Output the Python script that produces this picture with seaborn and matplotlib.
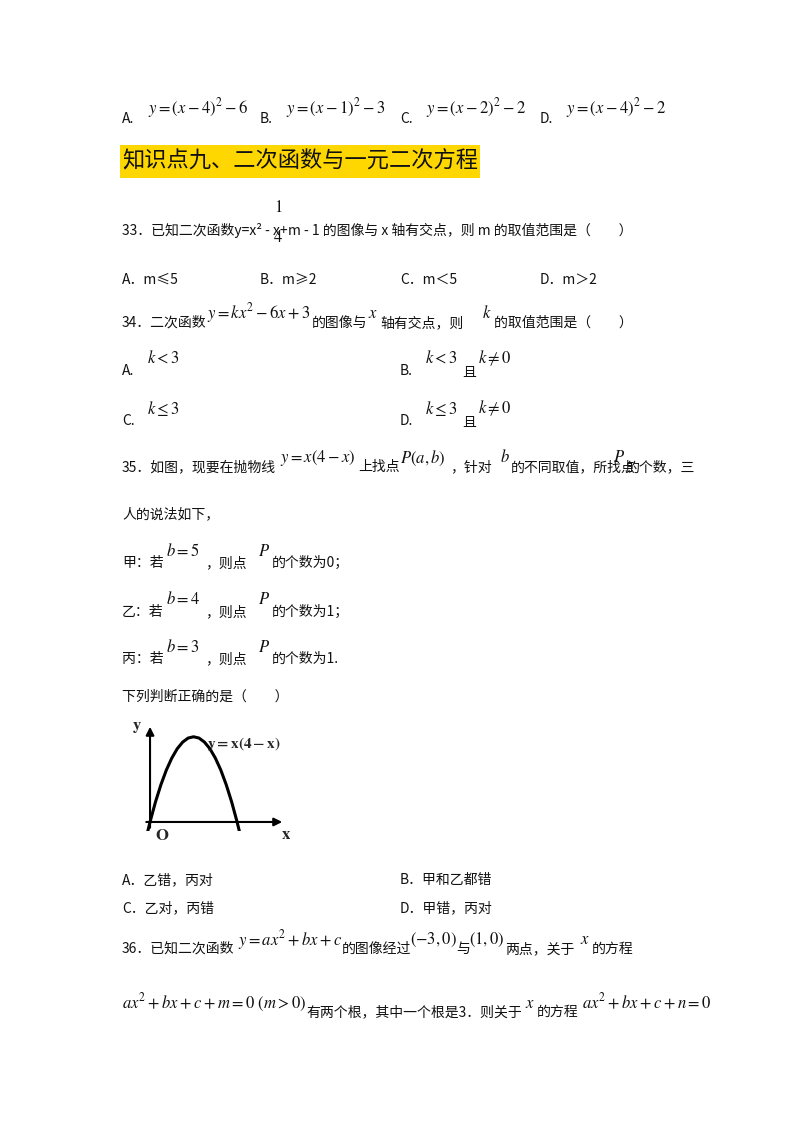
import matplotlib
matplotlib.use("Agg")
import matplotlib.pyplot as plt
import seaborn as sns
from matplotlib.patches import Rectangle

sns.set_theme(style="white")
plt.rcParams['font.family'] = ['Noto Sans CJK SC', 'DejaVu Sans']
plt.rcParams['mathtext.fontset'] = 'stix'

# parabola y = x(4-x)
curve_x = [-0.2, 0, 0.25, 0.5, 0.75, 1, 1.25, 1.5, 1.75, 2, 2.25, 2.5, 2.75, 3, 3.25, 3.5, 3.75, 4, 4.2]
curve_y = [-0.84, 0, 0.94, 1.75, 2.44, 3, 3.44, 3.75, 3.94, 4, 3.94, 3.75, 3.44, 3, 2.44, 1.75, 0.94, 0, -0.84]
curve_label = r"$\mathbf{y=x(4-x)}$"

W, H = 800, 1132
fig = plt.figure(figsize=(8, 11.32), dpi=100)
fig.patch.set_facecolor("white")

def T(x, y, s, size=10, **kw):
    fig.text(x / W, 1 - y / H, s, fontsize=size, va='center', ha='left', color='#111', **kw)

def M(x, y, s, size=12, ha='left'):
    fig.text(x / W, 1 - y / H, s, fontsize=size, va='center', ha=ha, color='#111')

for lx, lab, f in [(122, "A.", r"$y=(x-4)^2-6$"), (260, "B.", r"$y=(x-1)^2-3$"),
                   (400, "C.", r"$y=(x-2)^2-2$"), (540, "D.", r"$y=(x-4)^2-2$")]:
    T(lx, 119, lab)
    M(lx + 26, 108, f)

fig.patches.append(Rectangle((120 / W, 1 - 178 / H), 360 / W, 33 / H, transform=fig.transFigure,
                             facecolor='#FFD700', edgecolor='none'))
T(122, 161, "知识点九、二次函数与一元二次方程", size=16)

# Q33
T(122, 230, "33．已知二次函数y=x² - x+")
M(278, 208, r"$1$", 12, ha='center'); M(278, 238, r"$4$", 12, ha='center')
fig.lines.append(plt.Line2D([272 / W, 284 / W], [1 - 223 / H] * 2, color='#111', lw=0.8))
T(288, 230, "m - 1 的图像与 x 轴有交点，则 m 的取值范围是（　　）")
for lx, s in [(122, "A．m≤5"), (260, "B．m≥2"), (400, "C．m＜5"), (540, "D．m＞2")]:
    T(lx, 280, s)

# Q34
T(122, 323, "34．二次函数"); M(207, 313, r"$y=kx^2-6x+3$")
T(312, 323, "的图像与"); M(368, 313, r"$x$")
T(380, 323, "轴有交点，则"); M(482, 313, r"$k$"); T(494, 323, "的取值范围是（　　）")
T(122, 371, "A."); M(147, 358, r"$k<3$")
T(400, 371, "B."); M(425, 358, r"$k<3$"); T(462, 373, "且"); M(478, 358, r"$k\neq0$")
T(122, 421, "C."); M(147, 408, r"$k\leq3$")
T(400, 421, "D."); M(425, 408, r"$k\leq3$"); T(462, 423, "且"); M(478, 408, r"$k\neq0$")

# Q35
T(122, 467, "35．如图，现要在抛物线"); M(280, 458, r"$y=x(4-x)$")
T(358, 467, "上找点"); M(400, 458, r"$P(a,b)$"); T(450, 467, "，针对")
M(500, 458, r"$b$"); T(511, 467, "的不同取值，所找点"); M(613, 458, r"$P$"); T(626, 467, "的个数，三")
T(122, 514, "人的说法如下，")
for yy, who, bv, res in [(563, "甲", "5", "0；"), (612, "乙", "4", "1；"), (659, "丙", "3", "1.")]:
    T(122, yy, who + "：若"); M(166, yy - 12, r"$b=%s$" % bv)
    T(205, yy, "，则点"); M(258, yy - 12, r"$P$"); T(272, yy, "的个数为" + res)
T(122, 697, "下列判断正确的是（　　）")

# chart
x0, x1, y0, y1 = -0.3, 6.2, -0.4, 4.6
ax = fig.add_axes([143.5 / W, (H - 830.5) / H, 141.5 / W, 106.5 / H])
sns.lineplot(x=curve_x, y=curve_y, ax=ax, color='black', lw=2.2, sort=False)
ax.set_xlim(x0, x1); ax.set_ylim(y0, y1)
ax.axis('off')
ax.annotate("", xy=(6.2, 0), xytext=(-0.3, 0), arrowprops=dict(arrowstyle='-|>', color='black', lw=1.5))
ax.annotate("", xy=(0, 4.6), xytext=(0, -0.4), arrowprops=dict(arrowstyle='-|>', color='black', lw=1.5))
ax.text(0.25, -0.25, r"$\mathbf{O}$", fontsize=12, va='top')
ax.text(6.0, -0.2, r"$\mathbf{x}$", fontsize=12, va='top')
ax.text(-0.35, 4.5, r"$\mathbf{y}$", fontsize=12, ha='right', va='center')
ax.text(2.6, 3.45, curve_label, fontsize=11)

T(122, 880, "A．乙错，丙对"); T(400, 880, "B．甲和乙都错")
T(122, 908, "C．乙对，丙错"); T(400, 908, "D．甲错，丙对")

# Q36
T(122, 949, "36．已知二次函数"); M(238, 940, r"$y=ax^2+bx+c$")
T(342, 949, "的图像经过"); M(410, 940, r"$(-3,0)$"); T(456, 949, "与"); M(469, 940, r"$(1,0)$")
T(505, 949, "两点，关于"); M(580, 940, r"$x$"); T(592, 949, "的方程")
M(122, 1003, r"$ax^2+bx+c+m=0\ (m>0)$")
T(306, 1012, "有两个根，其中一个根是3．则关于"); M(525, 1003, r"$x$"); T(537, 1012, "的方程")
M(582, 1003, r"$ax^2+bx+c+n=0$")

fig.savefig("out.png", dpi=100, facecolor="white")
